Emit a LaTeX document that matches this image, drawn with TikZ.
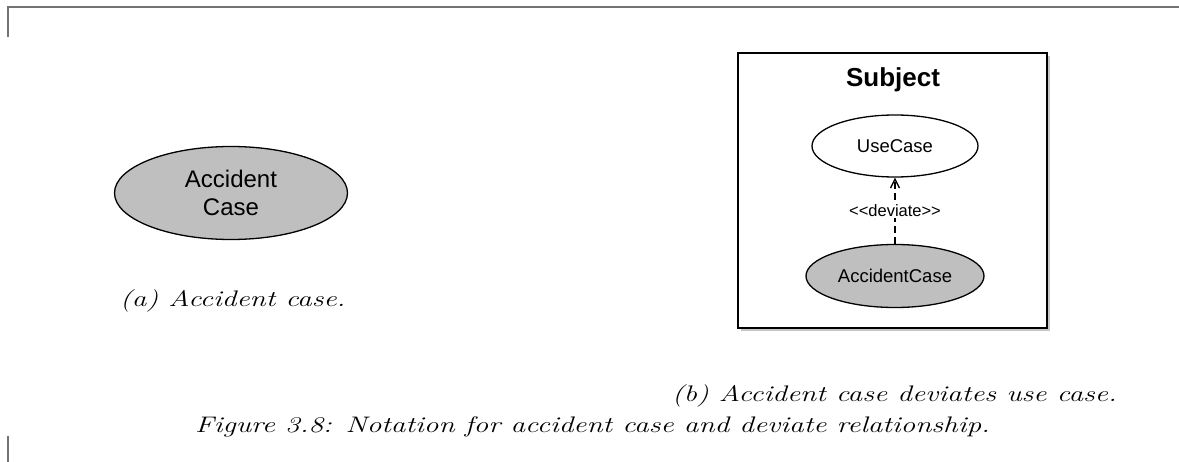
\documentclass[tikz,border=0pt]{standalone}
\usepackage{fontspec}
\usepackage{graphicx}
\newfontfamily\arial{Liberation Sans}
\usetikzlibrary{shapes.geometric,arrows.meta,shadows}
\begin{document}
\begin{tikzpicture}[x=1pt,y=-1pt,
  frameline/.style={draw=black!55,line width=1.5pt},
  uc/.style={ellipse,draw,line width=1.3pt,inner sep=0pt,font=\arial},
  acc/.style={uc,fill=black!25},
  captext/.style={font=\fontsize{22.5}{27}\selectfont\itshape,inner sep=0pt}]
\useasboundingbox (0,0) rectangle (1179,462);
\coordinate (tl) at (8,7);
\coordinate (tr) at (1179,7);
\coordinate (tlb) at (8,37);
\coordinate (bl1) at (8,436);
\coordinate (bl2) at (8,462);
\draw[frameline] (tlb) -- (tl) -- (tr);
\draw[frameline] (bl1) -- (bl2);
% (a)
\node[acc,minimum width=233pt,minimum height=93pt,font=\arial\fontsize{24}{28}\selectfont,align=center] (ac1) at (231,193) {Accident\\Case};
\node[captext,anchor=base west] (capa) at (120,307) {\scalebox{1.3}[1]{(a) Accident case.}};
% (b)
\node[draw,line width=1.5pt,fill=white,minimum width=309pt,minimum height=275pt,
  drop shadow={shadow xshift=3pt,shadow yshift=-3pt,opacity=0.45}] (subj) at (892.5,190.5) {};
\node[font=\arial\bfseries\fontsize{26}{30}\selectfont] (subjt) at (893,80) {Subject};
\node[uc,minimum width=166pt,minimum height=62pt,font=\arial\fontsize{18.5}{22}\selectfont] (usec) at (895,146) {UseCase};
\node[acc,minimum width=178pt,minimum height=63pt,font=\arial\fontsize{18.5}{22}\selectfont] (accc) at (895,276) {AccidentCase};
\draw[line width=1.3pt,dash pattern=on 7pt off 4pt,-{Straight Barb[length=9pt,width=9pt,line width=1.3pt]}]
  (accc.north) -- node[fill=white,inner sep=1pt,font=\arial\fontsize{16.5}{20}\selectfont] (dev) {<<deviate>>} (usec.south);
\node[captext,anchor=base east] (capb) at (1117,402) {\scalebox{1.3}[1]{(b) Accident case deviates use case.}};
\node[captext,anchor=base west] (fig) at (195,432) {\scalebox{1.3}[1]{Figure 3.8: Notation for accident case and deviate relationship.}};
\end{tikzpicture}
\end{document}
